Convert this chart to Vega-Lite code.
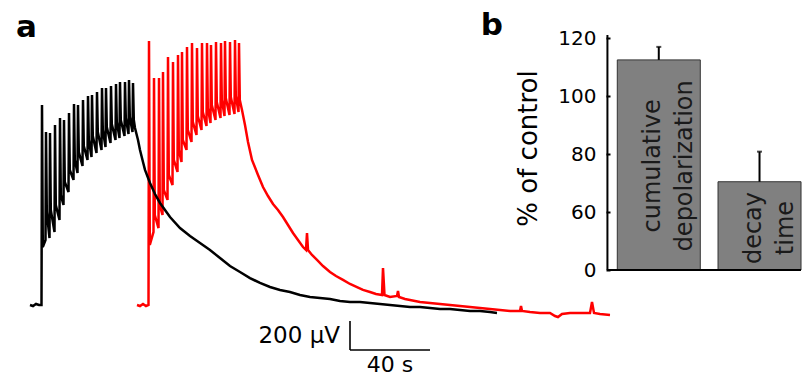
{
"$schema":"https://vega.github.io/schema/vega-lite/v6.json",
"width":806,"height":377,
"autosize":{"type":"fit","contains":"padding"},
"padding":0,
"background":"white",
"config":{"view":{"stroke":null},"font":"DejaVu Sans"},
"datasets":{
"control":[{"t":0,"v":0},{"t":1.5,"v":-7},{"t":3,"v":7},{"t":4.5,"v":0},{"t":5.75,"v":0},{"t":6,"v":1380},{"t":6.4,"v":400},{"t":7.75,"v":449},{"t":8,"v":1194},{"t":8.4,"v":642},{"t":9.75,"v":462},{"t":10,"v":1187},{"t":10.4,"v":656},{"t":12.25,"v":504},{"t":12.5,"v":1242},{"t":12.9,"v":690},{"t":14.75,"v":587},{"t":15,"v":1290},{"t":15.4,"v":759},{"t":16.75,"v":690},{"t":17,"v":1277},{"t":17.4,"v":849},{"t":19.25,"v":780},{"t":19.5,"v":1325},{"t":19.9,"v":932},{"t":21.75,"v":863},{"t":22,"v":1387},{"t":22.4,"v":1001},{"t":23.75,"v":911},{"t":24,"v":1380},{"t":24.4,"v":1056},{"t":26.25,"v":959},{"t":26.5,"v":1415},{"t":26.9,"v":1097},{"t":28.75,"v":1001},{"t":29,"v":1442},{"t":29.4,"v":1139},{"t":30.75,"v":1021},{"t":31,"v":1449},{"t":31.4,"v":1166},{"t":33.25,"v":1049},{"t":33.5,"v":1470},{"t":33.9,"v":1194},{"t":35.75,"v":1070},{"t":36,"v":1497},{"t":36.4,"v":1208},{"t":37.75,"v":1090},{"t":38,"v":1497},{"t":38.4,"v":1228},{"t":40.25,"v":1118},{"t":40.5,"v":1511},{"t":40.9,"v":1249},{"t":42.75,"v":1139},{"t":43,"v":1525},{"t":43.4,"v":1263},{"t":44.75,"v":1152},{"t":45,"v":1539},{"t":45.4,"v":1277},{"t":47.25,"v":1166},{"t":47.5,"v":1539},{"t":47.9,"v":1290},{"t":49.25,"v":1180},{"t":49.5,"v":1553},{"t":49.9,"v":1297},{"t":51.25,"v":1194},{"t":51.5,"v":1532},{"t":51.9,"v":1277},{"t":52.5,"v":1221},{"t":54,"v":1139},{"t":55,"v":1070},{"t":56.5,"v":987},{"t":57.5,"v":932},{"t":60,"v":842},{"t":62.5,"v":766},{"t":65,"v":704},{"t":70,"v":607},{"t":75,"v":531},{"t":80,"v":476},{"t":85,"v":428},{"t":90,"v":380},{"t":95,"v":324},{"t":100,"v":269},{"t":105,"v":228},{"t":110,"v":186},{"t":115,"v":152},{"t":120,"v":124},{"t":125,"v":104},{"t":130,"v":90},{"t":135,"v":69},{"t":140,"v":55},{"t":145,"v":48},{"t":150,"v":41},{"t":155,"v":28},{"t":160,"v":21},{"t":165,"v":21},{"t":170,"v":14},{"t":175,"v":7},{"t":180,"v":0},{"t":185,"v":-7},{"t":190,"v":-14},{"t":195,"v":-14},{"t":200,"v":-21},{"t":205,"v":-28},{"t":210,"v":-28},{"t":215,"v":-35},{"t":220,"v":-41},{"t":225,"v":-41},{"t":230,"v":-48},{"t":233.5,"v":-55}],
"drug":[{"t":53.5,"v":0},{"t":55,"v":-7},{"t":56.5,"v":7},{"t":58,"v":-7},{"t":59.25,"v":0},{"t":59.5,"v":1822},{"t":59.9,"v":414},{"t":61.75,"v":504},{"t":62,"v":1566},{"t":62.4,"v":621},{"t":64.25,"v":531},{"t":64.5,"v":1566},{"t":64.9,"v":690},{"t":66.25,"v":621},{"t":66.5,"v":1608},{"t":66.9,"v":794},{"t":68.75,"v":725},{"t":69,"v":1711},{"t":69.4,"v":897},{"t":71.25,"v":828},{"t":71.5,"v":1677},{"t":71.9,"v":1001},{"t":73.75,"v":918},{"t":74,"v":1725},{"t":74.4,"v":1070},{"t":75.75,"v":987},{"t":76,"v":1746},{"t":76.4,"v":1139},{"t":78.25,"v":1070},{"t":78.5,"v":1780},{"t":78.9,"v":1208},{"t":80.75,"v":1125},{"t":81,"v":1808},{"t":81.4,"v":1263},{"t":83.25,"v":1173},{"t":83.5,"v":1773},{"t":83.9,"v":1304},{"t":85.75,"v":1208},{"t":86,"v":1808},{"t":86.4,"v":1332},{"t":88.25,"v":1235},{"t":88.5,"v":1808},{"t":88.9,"v":1359},{"t":90.25,"v":1256},{"t":90.5,"v":1794},{"t":90.9,"v":1380},{"t":92.75,"v":1277},{"t":93,"v":1815},{"t":93.4,"v":1401},{"t":95.25,"v":1290},{"t":95.5,"v":1808},{"t":95.9,"v":1415},{"t":97.25,"v":1304},{"t":97.5,"v":1822},{"t":97.9,"v":1428},{"t":99.75,"v":1311},{"t":100,"v":1815},{"t":100.4,"v":1435},{"t":102.25,"v":1318},{"t":102.5,"v":1829},{"t":102.9,"v":1442},{"t":104.25,"v":1332},{"t":104.5,"v":1808},{"t":104.9,"v":1415},{"t":106,"v":1346},{"t":107.5,"v":1242},{"t":109,"v":1125},{"t":111,"v":1001},{"t":114,"v":897},{"t":116.5,"v":814},{"t":119,"v":752},{"t":121.5,"v":697},{"t":124,"v":656},{"t":126.5,"v":607},{"t":129,"v":552},{"t":131.5,"v":497},{"t":134,"v":449},{"t":136.5,"v":400},{"t":138,"v":380},{"t":138.5,"v":497},{"t":139,"v":380},{"t":141,"v":345},{"t":143.5,"v":311},{"t":146.5,"v":269},{"t":150,"v":228},{"t":153,"v":200},{"t":156.5,"v":173},{"t":160,"v":145},{"t":163.5,"v":124},{"t":166.5,"v":104},{"t":170,"v":90},{"t":173,"v":76},{"t":176,"v":69},{"t":176.5,"v":255},{"t":177.25,"v":69},{"t":180,"v":55},{"t":183.5,"v":62},{"t":184,"v":97},{"t":184.5,"v":55},{"t":187.5,"v":41},{"t":190,"v":35},{"t":195,"v":21},{"t":200,"v":14},{"t":205,"v":7},{"t":210,"v":0},{"t":215,"v":-7},{"t":220,"v":-14},{"t":225,"v":-21},{"t":230,"v":-28},{"t":235,"v":-35},{"t":240,"v":-41},{"t":245,"v":-41},{"t":245.5,"v":-7},{"t":246,"v":-41},{"t":250,"v":-48},{"t":255,"v":-55},{"t":260,"v":-55},{"t":262.5,"v":-76},{"t":264,"v":-83},{"t":266,"v":-62},{"t":270,"v":-55},{"t":275,"v":-55},{"t":280,"v":-55},{"t":281,"v":21},{"t":282,"v":-55},{"t":285,"v":-62},{"t":290,"v":-69}],
"scalebar":[{"t":160,"v":-110,"t2":160,"v2":-310},{"t":160,"v":-310,"t2":200,"v2":-310}],
"bars":[{"i":1,"measure":"cumulative depolarization","value":112.6,"err":117.1},{"i":2,"measure":"decay time","value":70.5,"err":80.9}]
},
"layer":[
{"layer":[
{"data":{"name":"drug"},"mark":{"type":"line","color":"#ff0000","strokeWidth":2.5},
"encoding":{"x":{"field":"t","type":"quantitative","scale":{"domain":[-15,388],"nice":false,"zero":false},"axis":null},
"y":{"field":"v","type":"quantitative","scale":{"domain":[-496.8,2104.5],"nice":false,"zero":false},"axis":null}}},
{"data":{"name":"control"},"mark":{"type":"line","color":"#000000","strokeWidth":2.5},
"encoding":{"x":{"field":"t","type":"quantitative"},"y":{"field":"v","type":"quantitative"}}},
{"data":{"name":"scalebar"},"mark":{"type":"rule","color":"#000000","strokeWidth":1.6},
"encoding":{"x":{"field":"t","type":"quantitative"},"x2":{"field":"t2"},"y":{"field":"v","type":"quantitative"},"y2":{"field":"v2"}}},
{"data":{"values":[{}]},"mark":{"type":"text","text":"200 μV","align":"right","baseline":"middle","fontSize":23,"color":"#000000"},
"encoding":{"x":{"datum":155},"y":{"datum":-214}}},
{"data":{"values":[{}]},"mark":{"type":"text","text":"40 s","align":"center","baseline":"middle","fontSize":22,"color":"#000000"},
"encoding":{"x":{"datum":180},"y":{"datum":-414}}},
{"data":{"values":[{}]},"mark":{"type":"text","text":"a","align":"center","baseline":"alphabetic","fontSize":31,"fontWeight":"bold","color":"#000000"},
"encoding":{"x":{"datum":-1.75},"y":{"datum":1849}}}
]},
{"layer":[
{"data":{"name":"bars"},"mark":{"type":"bar","width":83,"fill":"#808080","stroke":"#333333","strokeWidth":1},
"encoding":{"x":{"field":"i","type":"quantitative","scale":{"domain":[-5.4902,2.4118],"nice":false,"zero":false},"axis":null},
"y":{"field":"value","type":"quantitative","scale":{"domain":[3.03,133.3],"nice":false,"zero":false},
"axis":{"orient":"left","offset":-610,"values":[40,60,80,100,120],"labelExpr":"datum.value == 40 ? '0' : datum.label","domain":false,"grid":false,"ticks":true,"tickSize":4,"tickWidth":2,"tickColor":"#000000","labelFont":"DejaVu Sans","labelFontSize":20,"labelColor":"#000000","labelPadding":10,"title":"% of control","titleFont":"DejaVu Sans","titleFontSize":26,"titleFontWeight":"normal","titleColor":"#000000","titleX":-82,"titleY":148,"titleAngle":-90,"titleBaseline":"middle","titleAlign":"center"}},
"y2":{"datum":40}}},
{"data":{"name":"bars"},"mark":{"type":"rule","color":"#000000","strokeWidth":2},
"encoding":{"x":{"field":"i","type":"quantitative"},"y":{"field":"value","type":"quantitative"},"y2":{"field":"err"}}},
{"data":{"name":"bars"},"mark":{"type":"tick","orient":"horizontal","color":"#000000","size":5,"thickness":2},
"encoding":{"x":{"field":"i","type":"quantitative"},"y":{"field":"err","type":"quantitative"}}},
{"data":{"values":[{}]},"mark":{"type":"rule","color":"#000000","strokeWidth":2},
"encoding":{"x":{"datum":0.4902},"y":{"datum":40},"y2":{"datum":121.2}}},
{"data":{"values":[{}]},"mark":{"type":"rule","color":"#000000","strokeWidth":2},
"encoding":{"x":{"datum":0.4902},"x2":{"datum":2.4118},"y":{"datum":40}}},
{"data":{"values":[{}]},"mark":{"type":"text","text":"cumulative\ndepolarization","lineBreak":"\n","lineHeight":32,"angle":270,"align":"center","baseline":"middle","fontSize":24,"color":"#1a1a1a"},
"encoding":{"x":{"datum":0.94},"y":{"datum":76}}},
{"data":{"values":[{}]},"mark":{"type":"text","text":"decay\ntime","lineBreak":"\n","lineHeight":32,"angle":270,"align":"center","baseline":"middle","fontSize":24,"color":"#1a1a1a"},
"encoding":{"x":{"datum":1.95},"y":{"datum":54.5}}},
{"data":{"values":[{}]},"mark":{"type":"text","text":"b","align":"center","baseline":"alphabetic","fontSize":31,"fontWeight":"bold","color":"#000000"},
"encoding":{"x":{"datum":-0.657},"y":{"datum":121.2}}}
]}
],
"resolve":{"scale":{"x":"independent","y":"independent"}}
}
